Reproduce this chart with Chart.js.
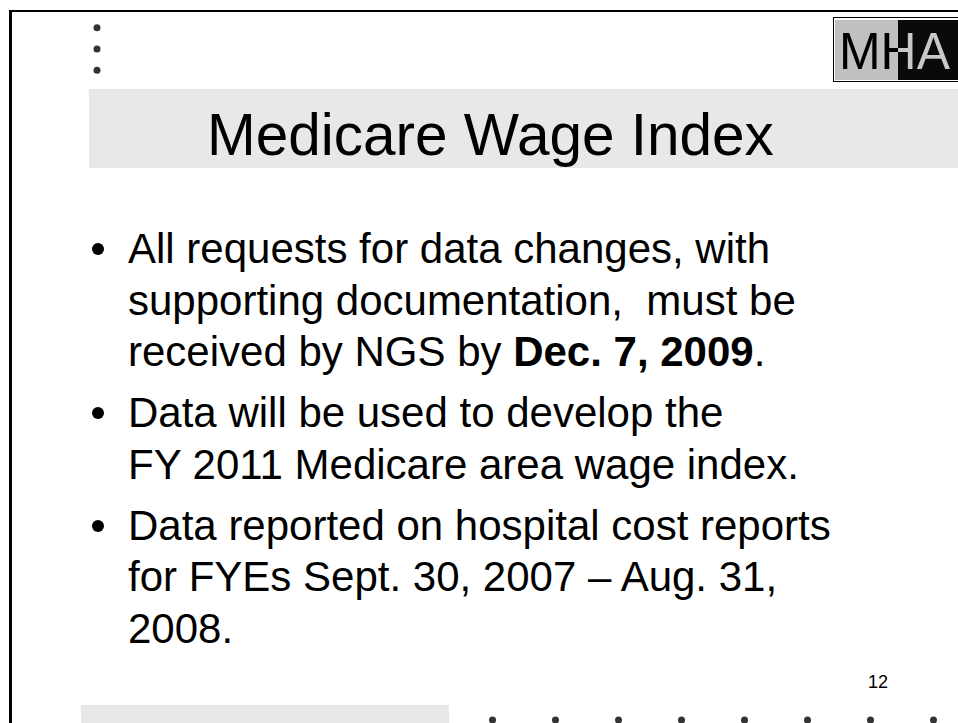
<!DOCTYPE html>
<html>
<head>
<meta charset="utf-8">
<title>Medicare Wage Index</title>
<script src="https://cdn.jsdelivr.net/npm/chart.js@4.4.0/dist/chart.umd.min.js"></script>
<style>
  html, body {
    margin: 0;
    padding: 0;
    width: 958px;
    height: 723px;
    overflow: hidden;
    background: #fff;
    font-family: "Liberation Sans", Arial, sans-serif;
    color: #000;
  }
  .abs { position: absolute; }
  .frame {
    left: 9px; top: 10px; width: 1000px; height: 800px;
    border-left: 3px solid #000;
    border-top: 2px solid #000;
  }
  .band { background: #e8e8e8; }
  .title {
    left: 207px; top: 106px;
    font-size: 58.5px; line-height: 58px;
    white-space: nowrap;
  }
  .logo-box {
    left: 833px; top: 17px; width: 200px; height: 63px;
    border: 1px solid #000;
  }
  .logo-text {
    left: 839px; top: 25px;
    display: inline-block;
    font-size: 52px; line-height: 52px;
    white-space: nowrap;
    transform: scaleX(0.96);
    transform-origin: 0 0;
    background: linear-gradient(to right, #000 0, #000 61.5px, #c8c8c8 61.5px, #c8c8c8 100%);
    -webkit-background-clip: text;
    background-clip: text;
    color: transparent;
  }
  .body {
    left: 128px; top: 223px; width: 800px;
    font-size: 42px; line-height: 51.5px;
  }
  .body p {
    position: relative;
    margin: 0 0 9.5px 0;
    white-space: nowrap;
  }
  .body p::before {
    content: "";
    position: absolute;
    left: -36px; top: 20px;
    width: 12px; height: 12px;
    border-radius: 50%;
    background: #000;
  }
  .page-num {
    left: 868px; top: 673px;
    font-size: 18px; line-height: 18px;
  }
</style>
</head>
<body>
  <div class="abs frame"></div>

  <canvas id="topDots" class="abs" width="32" height="72" style="left:81px; top:13px;"></canvas>

  <div class="abs logo-box"></div>
  <div class="abs" style="left:835px; top:20px; width:63px; height:60px; background:#c0c0c0;"></div>
  <div class="abs" style="left:898px; top:20px; width:70px; height:60px; background:#0a0a0a;"></div>
  <div class="abs logo-text">MHA</div>

  <div class="abs band" style="left:89px; top:89px; width:869px; height:79px;"></div>
  <div class="abs title">Medicare Wage Index</div>

  <div class="abs body">
    <p>All requests for data changes, with<br>supporting documentation,&nbsp; must be<br>received by NGS by <b>Dec. 7, 2009</b>.</p>
    <p>Data will be used to develop the<br>FY 2011 Medicare area wage index.</p>
    <p>Data reported on hospital cost reports<br>for FYEs Sept. 30, 2007 – Aug. 31,<br>2008.</p>
  </div>

  <div class="abs page-num">12</div>

  <div class="abs band" style="left:81px; top:705px; width:368px; height:18px;"></div>
  <canvas id="bottomDots" class="abs" width="512" height="40" style="left:457px; top:700px;"></canvas>

<script>
// Decorative dots of the slide template
const topDots = [1, 2, 3];
const bottomDots = [1, 2, 3, 4, 5, 6, 7, 8];
const dotColor = '#333333';

const baseOptions = (xRange, yRange, reverseY) => ({
    responsive: false,
    animation: false,
    events: [],
    layout: { padding: 0 },
    plugins: {
        legend: { display: false },
        tooltip: { enabled: false }
    },
    scales: {
        x: { type: 'linear', display: false, min: xRange[0], max: xRange[1] },
        y: { type: 'linear', display: false, min: yRange[0], max: yRange[1], reverse: reverseY }
    }
});

const dotDataset = (points) => ({
    data: points,
    pointRadius: 3.5,
    pointBackgroundColor: dotColor,
    pointBorderWidth: 0,
    showLine: false,
    clip: false
});

// Column of three dots, top left
new Chart(document.getElementById('topDots').getContext('2d'), {
    type: 'scatter',
    data: { datasets: [dotDataset(topDots.map(n => ({ x: 0, y: n })))] },
    options: baseOptions([-1, 1], [0.5, 3.5], true)
});

// Row of dots along the bottom edge
new Chart(document.getElementById('bottomDots').getContext('2d'), {
    type: 'scatter',
    data: { datasets: [dotDataset(bottomDots.map(n => ({ x: n, y: 0 })))] },
    options: baseOptions([0.5, 8.5], [-1, 1], false)
});
</script>
</body>
</html>
